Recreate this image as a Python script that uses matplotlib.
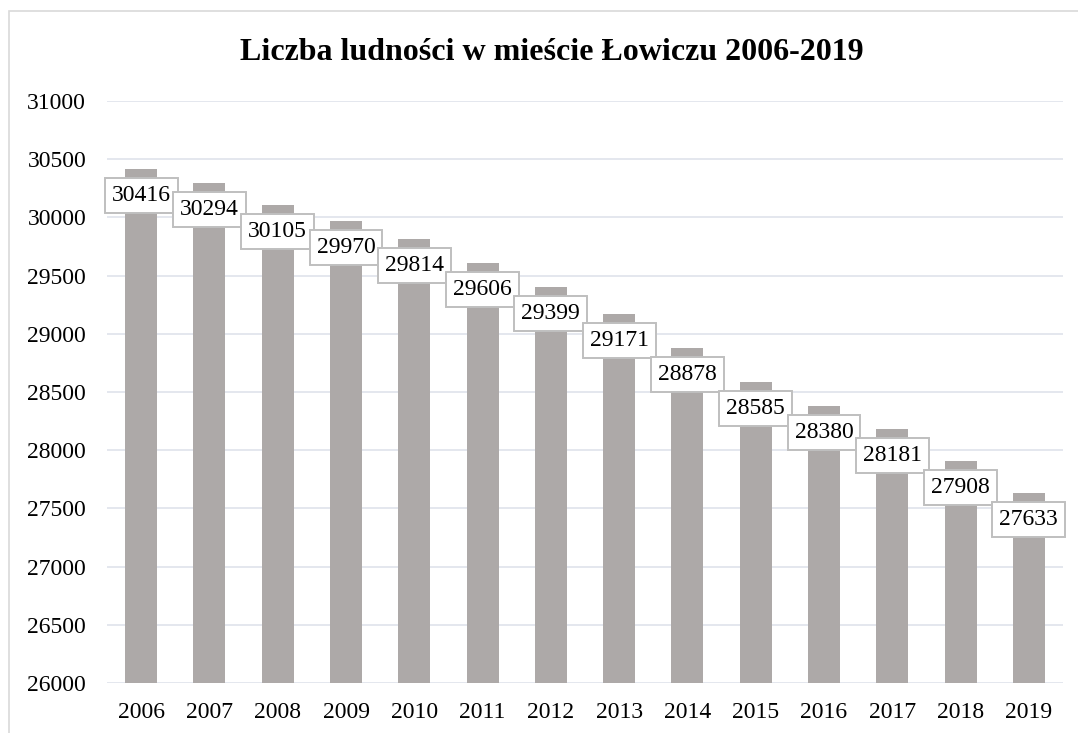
import numpy as np
import matplotlib.pyplot as plt
from matplotlib.patches import Rectangle

# Data
years = ["2006", "2007", "2008", "2009", "2010", "2011", "2012",
         "2013", "2014", "2015", "2016", "2017", "2018", "2019"]
population = [30416, 30294, 30105, 29970, 29814, 29606, 29399,
              29171, 28878, 28585, 28380, 28181, 27908, 27633]
y_ticks = [26000, 26500, 27000, 27500, 28000, 28500, 29000,
           29500, 30000, 30500, 31000]

plt.rcParams['font.family'] = ['Liberation Serif', 'DejaVu Serif']

figure_1 = plt.figure(figsize=(10.78, 7.33), dpi=100)
axis_1 = figure_1.add_axes([107 / 1078, 1 - 683 / 733, 956 / 1078, 582 / 733])

# Outer chart border (only top and left are visible in the reference)
figure_1.patches.append(Rectangle((9 / 1078, -0.1), 1.2, 1 - 11 / 733 + 0.1,
                                  transform=figure_1.transFigure, fill=False,
                                  edgecolor='#D9D9D9', linewidth=1.2))

x_values = np.arange(len(years))
bars = axis_1.bar(x_values, np.array(population) - 26000, bottom=26000,
                  width=0.47, color='#ADA9A8', zorder=2)

axis_1.set_ylim(26000, 31000)
axis_1.set_xlim(-0.5, len(years) - 0.5)
axis_1.set_yticks(y_ticks)
axis_1.set_yticklabels([str(t) for t in y_ticks])
axis_1.set_xticks(x_values)
axis_1.set_xticklabels(years)
axis_1.tick_params(axis='both', length=0, labelsize=17)
axis_1.tick_params(axis='y', pad=15)
axis_1.tick_params(axis='x', pad=14)

# Gridlines
axis_1.grid(axis='y', color='#DFE3EB', linewidth=1.2, zorder=0)
axis_1.set_axisbelow(True)
for spine in axis_1.spines.values():
    spine.set_visible(False)

# Value labels in boxes
for x, value in zip(x_values, population):
    axis_1.annotate(str(value), xy=(x, value), xytext=(0, -19),
                    textcoords='offset points', ha='center', va='center',
                    fontsize=17, zorder=4,
                    bbox=dict(boxstyle='square,pad=0.3', facecolor='white',
                              edgecolor='#BFBFBF', linewidth=1.4))

# Title
figure_1.text(552 / 1078, 1 - 52 / 733, "Liczba ludności w mieście Łowiczu 2006-2019",
              ha='center', va='center', fontsize=23, fontweight='bold')

plt.savefig("out.png", dpi=100)
